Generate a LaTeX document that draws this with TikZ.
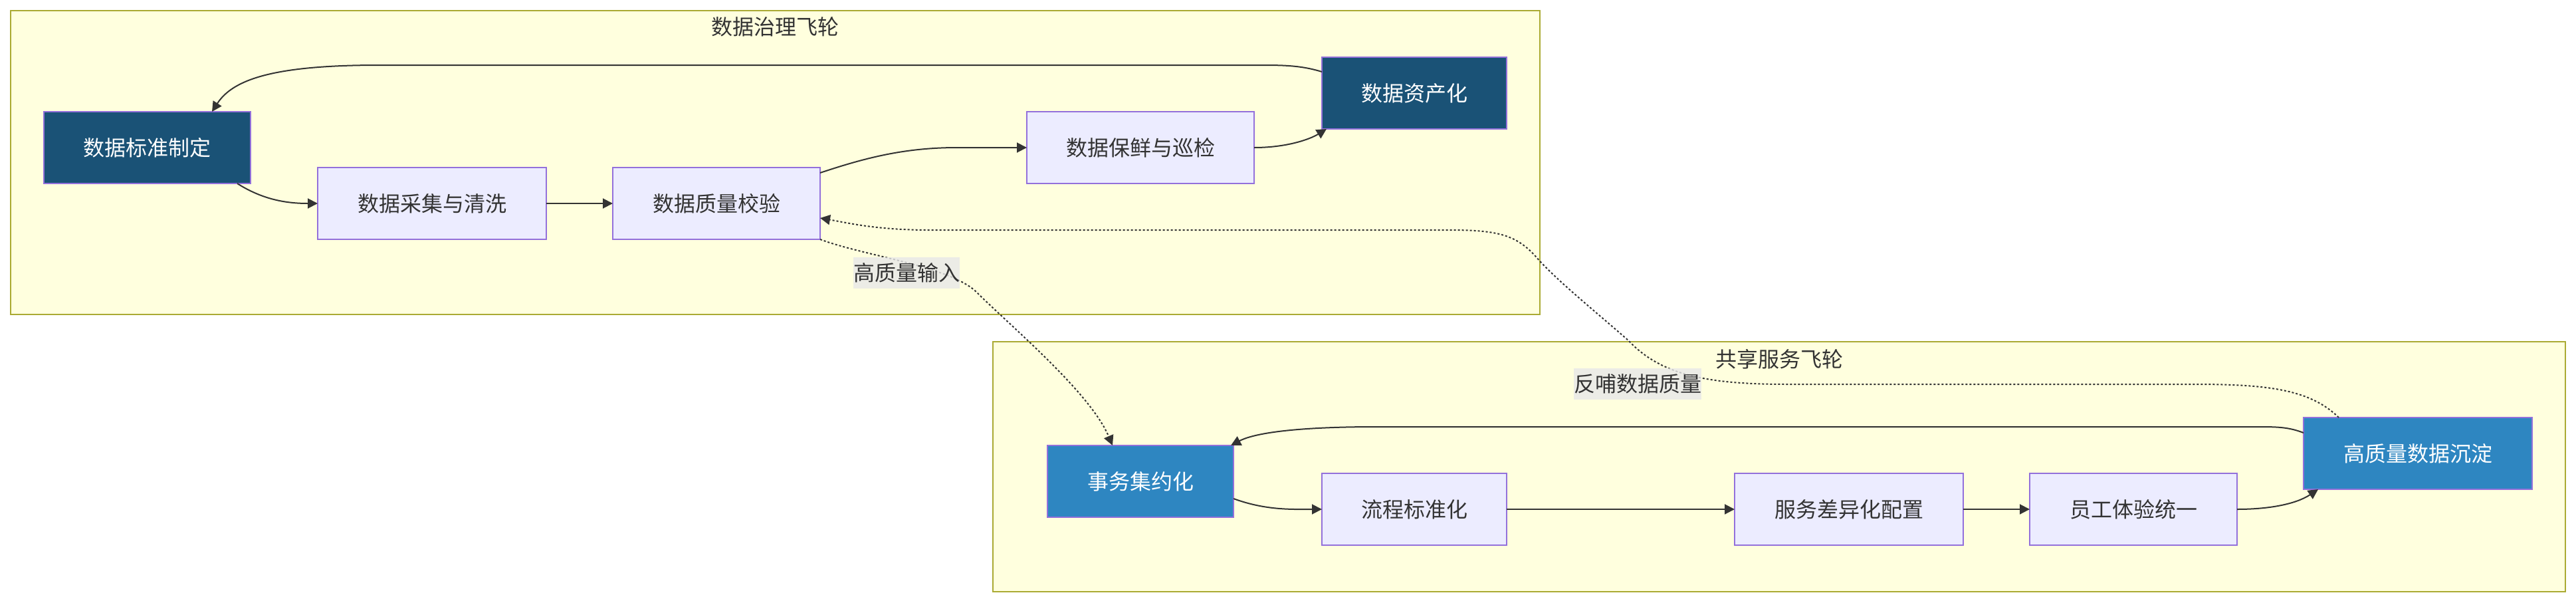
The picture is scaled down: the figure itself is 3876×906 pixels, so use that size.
\documentclass[tikz,border=0pt]{standalone}
\usepackage{fontspec}
\setmainfont{Noto Sans CJK SC}
\usetikzlibrary{arrows.meta}
\definecolor{clfill}{HTML}{FFFFDE}
\definecolor{clborder}{HTML}{AAAA33}
\definecolor{nodefill}{HTML}{ECECFF}
\definecolor{nodeborder}{HTML}{9370DB}
\definecolor{darkone}{HTML}{1A5276}
\definecolor{darktwo}{HTML}{2E86C1}
\definecolor{edgec}{HTML}{333333}
\definecolor{textc}{HTML}{333333}
\definecolor{lblfill}{HTML}{E8E8E8}
\begin{document}
\begin{tikzpicture}[x=1pt,y=-1pt,
  cluster/.style={draw=clborder, fill=clfill, line width=2pt, inner sep=0pt, outer sep=0pt},
  box/.style={draw=nodeborder, line width=2pt, fill=nodefill, text=textc, minimum height=108pt, inner sep=0pt, outer sep=0pt, font=\fontsize{32}{38}\selectfont},
  darkbox/.style={box, fill=darkone, text=white},
  midbox/.style={box, fill=darktwo, text=white},
  link/.style={draw=edgec, line width=2pt, -{Triangle[length=15pt,width=15pt]}},
  dotlink/.style={link, dash pattern=on 3pt off 3pt},
  elabel/.style={fill=lblfill, fill opacity=0.8, text opacity=1, text=textc, inner sep=0pt, minimum height=47pt, font=\fontsize{32}{38}\selectfont},
  cltitle/.style={text=textc, inner sep=0pt, font=\fontsize{32}{38}\selectfont}]
\useasboundingbox[fill=white] (0,0) rectangle (3876,906);
% clusters
\node[cluster, minimum width=2301pt, minimum height=457pt] (K1) at (1166.5,244.5) {};
\node[cluster, minimum width=2366pt, minimum height=376pt] (K2) at (2677,702) {};
\node[cltitle] (T1) at ([yshift=-24pt]K1.north) {数据治理飞轮};
\node[cltitle] (T2) at ([yshift=-26pt]K2.north) {共享服务飞轮};
% nodes cluster 1
\node[darkbox, minimum width=311pt] (A) at (221.5,222) {数据标准制定};
\node[box, minimum width=344pt] (B) at (650,306) {数据采集与清洗};
\node[box, minimum width=312pt] (C) at (1078,306) {数据质量校验};
\node[box, minimum width=342pt] (D) at (1716,222) {数据保鲜与巡检};
\node[darkbox, minimum width=278pt] (E) at (2128,140) {数据资产化};
% nodes cluster 2
\node[midbox, minimum width=280pt] (F) at (1716,724) {事务集约化};
\node[box, minimum width=278pt] (G) at (2128,766) {流程标准化};
\node[box, minimum width=344pt] (H) at (2782,766) {服务差异化配置};
\node[box, minimum width=312pt] (I) at (3210,766) {员工体验统一};
\node[midbox, minimum width=344pt] (J) at (3638,682) {高质量数据沉淀};
% edges cluster 1
\draw[link] ([yshift=32pt]E.west) .. controls (1960,99) and (1935,98) .. (1900,98) -- (570,98) .. controls (410,98) and (350,120) .. ([xshift=97.5pt]A.north);
\draw[link] ([xshift=135.5pt]A.south) .. controls (395,300) and (430,306) .. (B.west);
\draw[link] (B.east) -- (C.west);
\draw[link] ([yshift=46pt]C.east) .. controls (1300,238) and (1360,222) .. (1440,222) -- (D.west);
\draw[link] (D.east) .. controls (1935,222) and (1970,210) .. ([xshift=-132pt]E.south);
% edges cluster 2
\draw[link] ([yshift=31pt]J.west) .. controls (3445,643) and (3430,642) .. (3400,642) -- (2070,642) .. controls (1960,642) and (1890,650) .. ([xshift=-4pt]F.north east);
\draw[link] ([yshift=-26pt]F.east) .. controls (1905,768) and (1945,766) .. (G.west);
\draw[link] (G.east) -- (H.west);
\draw[link] (H.east) -- (I.west);
\draw[link] (I.east) .. controls (3415,766) and (3455,758) .. ([xshift=-150pt]J.south);
% cross edges
\draw[dotlink] (C.south east) .. controls (1300,385) and (1430,400) .. (1470,440) .. controls (1520,490) and (1640,590) .. ([xshift=-42pt]F.north);
\draw[dotlink] ([xshift=-119pt]J.north) .. controls (3475,585) and (3410,578) .. (3300,578) -- (2690,578) .. controls (2570,578) and (2500,565) .. (2450,512) .. controls (2400,468) and (2340,420) .. (2310,385) .. controls (2280,352) and (2250,346) .. (2180,346) -- (1400,346) .. controls (1320,346) and (1280,336) .. ([yshift=-22pt]C.east);
% edge labels
\node[elabel] (L1) at (1364,410) {高质量输入};
\node[elabel] (L2) at (2464,577) {反哺数据质量};
\end{tikzpicture}
\end{document}
